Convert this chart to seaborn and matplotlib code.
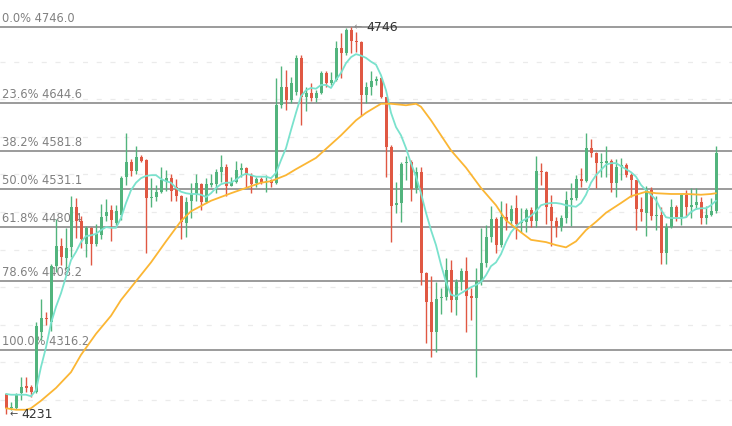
import matplotlib
matplotlib.use("Agg")
import matplotlib.pyplot as plt
import numpy as np
import pandas as pd
import seaborn as sns

# ---------------- data ----------------
opens = [4258,4239,4239,4259,4269,4267,4261,4340,4359,4354,
         4428,4455,4439,4453,4507,4488,4457,4479,4457,4469,
         4495,4503,4485,4496,4547,4567,4555,4573,4569,4519,
         4520,4527,4541,4545,4533,4521,4485,4515,4524,4537,
         4513,4536,4537,4553,4560,4535,4540,4556,4559,4549,
         4539,4544,4540,4543,4539,4642,4666,4649,4660,4705,
         4653,4658,4652,4658,4685,4672,4676,4718,4712,4742,
         4727,4726,4656,4666,4674,4678,4653,4586,4509,4512,
         4565,4567,4532,4553,4419,4380,4340,4386,4387,4423,
         4383,4407,4422,4388,4386,4408,4432,4467,4491,4456,
         4493,4488,4505,4485,4487,4503,4488,4555,4553,4507,
         4488,4480,4492,4516,4519,4544,4541,4585,4578,4565,
         4565,4568,4539,4560,4563,4549,4543,4504,4499,4529,
         4495,4496,4445,4480,4507,4493,4523,4507,4509,4513,
         4492,4496,4501]
closes = [4239,4241,4258,4267,4266,4261,4348,4359,4358,4428,
          4455,4440,4452,4507,4488,4464,4479,4457,4471,4493,
          4500,4489,4501,4545,4567,4555,4573,4568,4519,4520,
          4527,4543,4545,4528,4521,4487,4513,4524,4539,4513,
          4537,4539,4553,4560,4535,4540,4556,4559,4549,4537,
          4544,4540,4541,4539,4642,4666,4649,4672,4705,4653,
          4658,4652,4658,4685,4672,4676,4718,4712,4742,4727,
          4726,4656,4666,4674,4677,4653,4586,4508,4512,4564,
          4567,4531,4553,4419,4380,4340,4384,4387,4423,4383,
          4407,4422,4388,4386,4408,4432,4467,4491,4456,4493,
          4488,4504,4484,4487,4503,4488,4555,4553,4507,4488,
          4480,4492,4516,4519,4544,4541,4585,4578,4565,4566,
          4568,4539,4560,4563,4549,4543,4504,4500,4529,4495,
          4496,4445,4480,4507,4493,4523,4507,4509,4513,4492,
          4496,4501,4578]
highs = [4259,4247,4259,4281,4281,4270,4354,4384,4367,4431,
         4491,4465,4479,4521,4519,4495,4481,4480,4484,4511,
         4517,4509,4509,4548,4605,4571,4588,4576,4571,4545,
         4536,4560,4556,4551,4544,4523,4520,4539,4551,4539,
         4545,4551,4557,4576,4564,4547,4568,4565,4560,4552,
         4547,4547,4549,4544,4678,4694,4689,4680,4709,4709,
         4666,4672,4662,4688,4688,4686,4727,4738,4745,4746,
         4739,4727,4673,4688,4681,4680,4653,4589,4540,4567,
         4575,4569,4560,4560,4420,4415,4407,4399,4439,4436,
         4411,4426,4440,4399,4426,4479,4483,4508,4493,4515,
         4512,4509,4523,4505,4505,4507,4575,4565,4555,4523,
         4493,4496,4528,4539,4549,4559,4605,4597,4580,4578,
         4588,4571,4571,4572,4565,4552,4543,4520,4535,4533,
         4521,4507,4485,4517,4509,4524,4529,4532,4532,4520,
         4508,4519,4588]
lows = [4231,4237,4238,4250,4261,4254,4259,4330,4350,4342,
        4420,4430,4424,4440,4465,4452,4440,4430,4455,4464,
        4488,4461,4483,4489,4536,4548,4551,4567,4445,4507,
        4515,4525,4528,4515,4515,4464,4467,4492,4515,4503,
        4512,4533,4525,4540,4521,4534,4539,4547,4533,4525,
        4533,4537,4527,4533,4537,4638,4636,4645,4656,4616,
        4634,4648,4646,4657,4666,4669,4674,4678,4709,4712,
        4713,4628,4645,4656,4669,4652,4547,4460,4499,4487,
        4543,4515,4525,4403,4326,4307,4314,4364,4383,4367,
        4363,4396,4340,4356,4281,4403,4427,4460,4445,4453,
        4476,4483,4464,4473,4473,4480,4480,4536,4484,4455,
        4467,4475,4485,4481,4516,4533,4540,4573,4532,4547,
        4547,4527,4520,4543,4547,4520,4476,4488,4468,4489,
        4476,4431,4431,4479,4488,4483,4493,4492,4504,4484,
        4484,4495,4499]

ma_fast = [4258,4257,4257,4257,4257,4255,4263,4294,4320,4352,
           4374,4392,4414,4436,4447,4460,4468,4469,4471,4476,
           4480,4479,4479,4492,4512,4529,4539,4545,4548,4549,
           4549,4544,4541,4539,4532,4527,4525,4524,4524,4523,
           4520,4525,4532,4537,4539,4539,4543,4548,4551,4549,
           4547,4547,4547,4545,4552,4569,4585,4609,4632,4654,
           4662,4665,4664,4669,4669,4665,4676,4685,4698,4706,
           4710,4708,4705,4700,4696,4682,4662,4632,4613,4602,
           4585,4565,4547,4525,4499,4476,4456,4430,4407,4390,
           4388,4392,4396,4400,4403,4407,4416,4428,4433,4444,
           4460,4473,4481,4487,4491,4495,4501,4509,4511,4512,
           4512,4511,4509,4508,4507,4512,4523,4539,4549,4556,
           4563,4565,4565,4561,4557,4553,4547,4536,4529,4523,
           4516,4503,4493,4492,4492,4492,4493,4500,4504,4505,
           4505,4509,4515]

slow_idx = [0, 2, 4, 5, 7, 10, 13, 15, 18, 21, 23, 26, 29, 32, 35, 37, 39, 41,
            45, 48, 51, 53, 56, 58, 62, 64, 67, 70, 72, 75, 77, 80, 82, 83, 85,
            87, 89, 92, 95, 98, 100, 103, 105, 108, 110, 112, 114, 116, 118, 120,
            123, 125, 128, 130, 133, 136, 139, 141, 142]
ma_slow = [4239, 4237, 4237, 4239, 4249, 4266, 4287, 4310, 4338, 4362, 4383,
           4408, 4433, 4461, 4488, 4501, 4508, 4515, 4525, 4532, 4539, 4541,
           4549, 4557, 4572, 4584, 4602, 4622, 4632, 4644, 4644, 4642, 4644,
           4640, 4622, 4602, 4582, 4559, 4532, 4509, 4489, 4473, 4463, 4460,
           4456, 4453, 4461, 4476, 4487, 4499, 4512, 4521, 4527, 4525, 4524,
           4524, 4523, 4524, 4525]

fib_pcts = ["0.0%", "23.6%", "38.2%", "50.0%", "61.8%", "78.6%", "100.0%"]
fib_levels = [4746.0, 4644.6, 4581.8, 4531.1, 4480.4, 4408.2, 4316.2]
grid_levels = [4250, 4300, 4350, 4400, 4450, 4500, 4550, 4600, 4650, 4700]
max_label, max_idx = "4746", 69
min_label, min_idx = "4231", 0

# ---------------- style ----------------
sns.set_style("white")
plt.rcParams["font.family"] = ["DejaVu Sans"]

UP = "#52b47d"
DOWN = "#e05843"

fig = plt.figure(figsize=(7.32, 4.26), dpi=100)
fig.patch.set_facecolor("white")
ax = fig.add_axes([0, 0, 1, 1])

df = pd.DataFrame({"i": np.arange(len(opens)), "open": opens, "close": closes,
                   "high": highs, "low": lows, "ma_fast": ma_fast})
up = df["close"] >= df["open"]
colors = np.where(up, UP, DOWN)

# light dashed grid
for g in grid_levels:
    ax.axhline(g, color="#ebebeb", lw=0.9, dashes=(4, 7), zorder=0)

# fibonacci levels
for pct, lvl in zip(fib_pcts, fib_levels):
    ax.axhline(lvl, color="#8a8a8a", lw=1.2, zorder=1)
    ax.annotate(f"{pct} {lvl:.1f}", xy=(0, lvl), xycoords=("axes fraction", "data"),
                xytext=(2, 2), textcoords="offset pixels", ha="left", va="bottom",
                color="#808080", fontsize=8.3, zorder=1.5)

# candles
ax.vlines(df["i"], df["low"], df["high"], colors=colors, lw=1.0, zorder=2)
body = np.maximum((df["close"] - df["open"]).abs(), 0.9)
bottom = np.minimum(df["open"], df["close"])
ax.bar(df["i"], body, bottom=bottom, width=0.6, color=colors, linewidth=0, zorder=3)

# moving averages
sns.lineplot(data=df, x="i", y="ma_fast", color="#7ae2cd", lw=1.3, ax=ax,
             zorder=4, legend=False)
sns.lineplot(x=slow_idx, y=ma_slow, color="#fbb634", lw=1.3, ax=ax,
             zorder=4, legend=False)

# extreme markers
ax.annotate("\u2190", xy=(max_idx, float(max_label)), xytext=(3, 0),
            textcoords="offset pixels", ha="left", va="center", color="#8a8a8a",
            fontsize=7, zorder=5)
ax.annotate(max_label, xy=(max_idx, float(max_label)), xytext=(15, 0),
            textcoords="offset pixels", ha="left", va="center", color="#333333",
            fontsize=9, zorder=5)
ax.annotate("\u2190", xy=(min_idx, float(min_label)), xytext=(4, 0),
            textcoords="offset pixels", ha="left", va="center", color="#444444",
            fontsize=7, zorder=5)
ax.annotate(min_label, xy=(min_idx, float(min_label)), xytext=(15, 0),
            textcoords="offset pixels", ha="left", va="center", color="#333333",
            fontsize=9, zorder=5)

ax.set_xlim(-1.2, 145.2)
ax.set_ylim(4215.4, 4782.0)
ax.set_axis_off()

fig.savefig("out.png", dpi=100, facecolor="white")
